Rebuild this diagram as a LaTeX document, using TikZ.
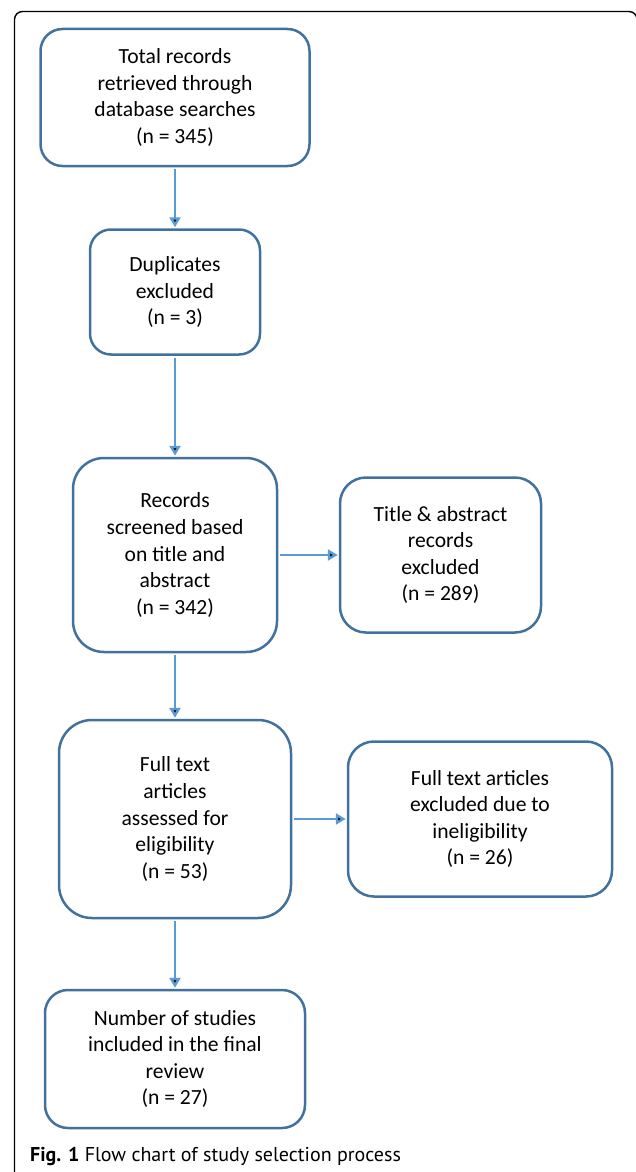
\documentclass[tikz,border=0pt]{standalone}
\usepackage{fontspec}
\setmainfont{Carlito}
\newfontfamily\capfont{PT Sans}
\usetikzlibrary{positioning,arrows.meta}
\definecolor{boxline}{HTML}{41719C}
\definecolor{arrowblue}{HTML}{5B9BD5}

\begin{document}
\begin{tikzpicture}[x=1pt,y=-1pt,on grid,
	box/.style={draw=boxline,line width=2.5pt,align=center,inner sep=0pt,font=\fontsize{21.6}{26.6}\selectfont},
	link/.style={draw=arrowblue,line width=2.4pt,shorten <=2pt,shorten >=1pt,-{Triangle[width=11pt,length=10pt]}}]
	\useasboundingbox (0,0) rectangle (635,1172);
	\draw[line width=1.4pt,rounded corners=8pt] (14.5,1174) -- (14.5,11.5) -- (637,11.5) -- (637,1174);
	\node[box,minimum width=269pt,minimum height=137pt,rounded corners=22pt] (v1) at (175,97.5) {Total records\\retrieved through\\database searches\\(n = 345)};
	\node[box,minimum width=170pt,minimum height=125pt,rounded corners=21pt] (v2) [below=194.5pt of v1] {Duplicates\\excluded\\(n = 3)};
	\node[box,minimum width=204pt,minimum height=194pt,rounded corners=31pt] (v3) [below=263pt of v2] {Records\\screened based\\on title and\\abstract\\(n = 342)};
	\node[box,minimum width=201pt,minimum height=155pt,rounded corners=26pt] (v4) [right=265.5pt of v3] {Title \& abstract\\records\\excluded\\(n = 289)};
	\node[box,minimum width=232pt,minimum height=198pt,rounded corners=33pt] (v5) [below=264pt of v3] {Full text\\articles\\assessed for\\eligibility\\(n = 53)};
	\node[box,minimum width=264pt,minimum height=155pt,rounded corners=26pt] (v6) [right=305pt of v5] {Full text articles\\excluded due to\\ineligibility\\(n = 26)};
	\node[box,minimum width=260pt,minimum height=138pt,rounded corners=23pt] (v7) [below=240pt of v5] {Number of studies\\included in the final\\review\\(n = 27)};
	\node[anchor=base west,inner sep=0pt,font=\capfont\fontsize{20}{24}\selectfont] (cap) at (30,1161) {\textbf{Fig. 1} Flow chart of study selection process};
	\path[link]
	(v1) edge (v2)
	(v2) edge (v3)
	(v3) edge (v4)
	(v3) edge (v5)
	(v5) edge (v6)
	(v5) edge (v7);
\end{tikzpicture}
\end{document}
